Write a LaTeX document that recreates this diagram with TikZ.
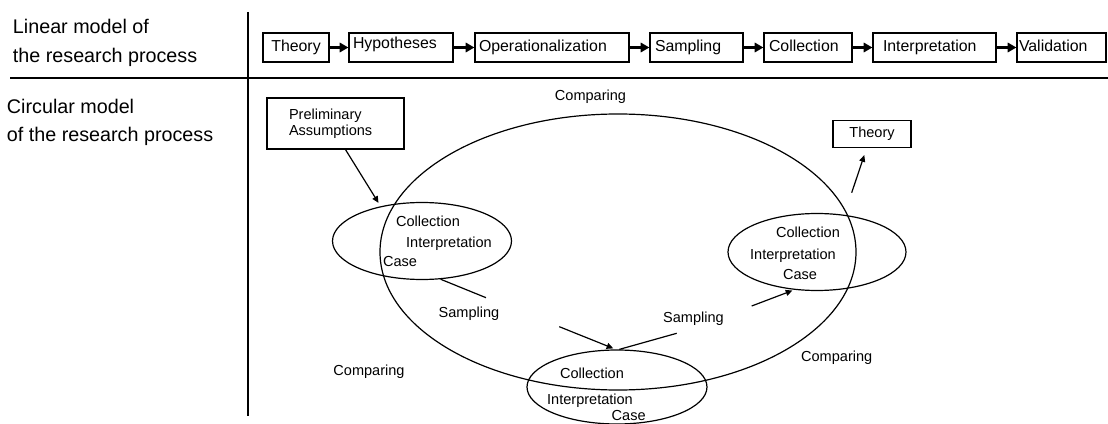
\documentclass[tikz,border=0pt]{standalone}
\usepackage{fontspec}
\setmainfont{Liberation Sans}
\usetikzlibrary{arrows.meta,calc,shapes.geometric}
\begin{document}
\begin{tikzpicture}[x=0.75pt,y=-0.75pt,
 side/.style={anchor=base west,inner sep=0pt,font=\fontsize{14.8}{17}\selectfont},
 lbox/.style={draw,line width=0.9pt,minimum height=21.75pt,inner ysep=0pt,align=left,text height=8.6pt,text depth=2.4pt,font=\fontsize{11.9}{14}\selectfont},
 larrow/.style={line width=1.6pt,-{Triangle[length=6.5pt,width=7pt]}},
 lbl/.style={inner sep=0pt,text height=7.8pt,text depth=0pt,font=\fontsize{10.9}{13}\selectfont},
 ell/.style={draw,ellipse,line width=0.9pt,inner sep=0pt},
 cbox/.style={draw,line width=0.9pt,font=\fontsize{10.9}{12}\selectfont},
 thinline/.style={line width=0.9pt},
 tarrow/.style={line width=0.9pt,-{Triangle[length=5pt,width=4.5pt]}},
 divider/.style={line width=1.1pt}
]
\useasboundingbox (0,0) rectangle (1108,424);

% dividers
\draw[divider] (248,12) -- (248,416);
\draw[divider] (10,78) -- (1108,78);

% side labels
\node[side] (l1) at (12.7,34) {Linear model of};
\node[side] (l2) at (12.7,63) {the research process};
\node[side] (c1) at (6.7,113.3) {Circular model};
\node[side] (c2) at (6.7,141.7) {of the research process};

% linear model
\node[lbox,minimum width=49.5pt,align=center] (b1) at (296,47.5) {Theory};
\node[lbox,inner xsep=3pt,text width=72pt,text depth=7.4pt] (b2) at (401,47.5) {Hypotheses};
\node[lbox,inner xsep=3pt,text width=109.5pt] (b3) at (552,47.5) {Operationalization};
\node[lbox,inner xsep=3.75pt,text width=62.25pt] (b4) at (696.5,47.5) {Sampling};
\node[lbox,inner xsep=3.75pt,text width=58.5pt] (b5) at (808,47.5) {Collection};
\node[lbox,inner xsep=7.5pt,text width=77.25pt] (b6) at (934.5,47.5) {Interpretation};
\node[lbox,inner xsep=1.5pt,text width=63.75pt] (b7) at (1061.5,47.5) {Validation};
\draw[larrow] (b1) -- (b2);
\draw[larrow] (b2) -- (b3);
\draw[larrow] (b3) -- (b4);
\draw[larrow] (b4) -- (b5);
\draw[larrow] (b5) -- (b6);
\draw[larrow] (b6) -- (b7);

% circular model
\node[ell,minimum width=357pt,minimum height=207pt] (big) at (618,252) {};
\node[ell,minimum width=134.25pt,minimum height=57.75pt] (e1) at (422,241) {};
\node[ell,minimum width=135pt,minimum height=55.5pt] (e2) at (617,387) {};
\node[ell,minimum width=133.5pt,minimum height=57.75pt] (e3) at (817,252) {};

\node[cbox,minimum height=38.25pt,inner xsep=16.5pt,text width=69.75pt,align=left] (pre) at (335.5,123.5) {Preliminary\\Assumptions};
\node[cbox,minimum width=58.5pt,minimum height=20.25pt] (th) at (872,134) {Theory};

\node[lbl] (e1c) at (428,221.7) {Collection};
\node[lbl] (e1i) at (449,242.7) {Interpretation};
\node[lbl] (e1k) at (400,261) {Case};
\node[lbl] (e2c) at (592,373.3) {Collection};
\node[lbl] (e2i) at (590,399) {Interpretation};
\node[lbl] (e2k) at (628.7,415.7) {Case};
\node[lbl] (e3c) at (808,232.7) {Collection};
\node[lbl] (e3i) at (793,254) {Interpretation};
\node[lbl] (e3k) at (800,274) {Case};

\node[lbl] (cmp1) at (590.5,95) {Comparing};
\node[lbl] (cmp2) at (369,370) {Comparing};
\node[lbl] (cmp3) at (836.7,356) {Comparing};
\node[lbl] (smp1) at (469,312) {Sampling};
\node[lbl] (smp2) at (693.5,317) {Sampling};

% connectors
\draw[tarrow,shorten >=3pt] ($(pre.south)+(10,0)$) -- (e1.140);
\coordinate (th0) at (851.7,192.7);
\draw[tarrow] (th0) -- ($(th.south)+(-7.7,7)$);
\coordinate (s1) at (486,297.7);
\draw[thinline] (e1.-64.5) -- (s1);
\coordinate (s2) at (559.3,326.7);
\draw[tarrow] (s2) -- ($(e2.north)+(-3.7,-1)$);
\coordinate (s3) at (676.7,333.3);
\draw[thinline] ($(e2.north)+(2.3,0)$) -- (s3);
\coordinate (s4) at (751.7,306);
\draw[tarrow,shorten >=1.5pt] (s4) -- (e3.-121.7);
\end{tikzpicture}
\end{document}
